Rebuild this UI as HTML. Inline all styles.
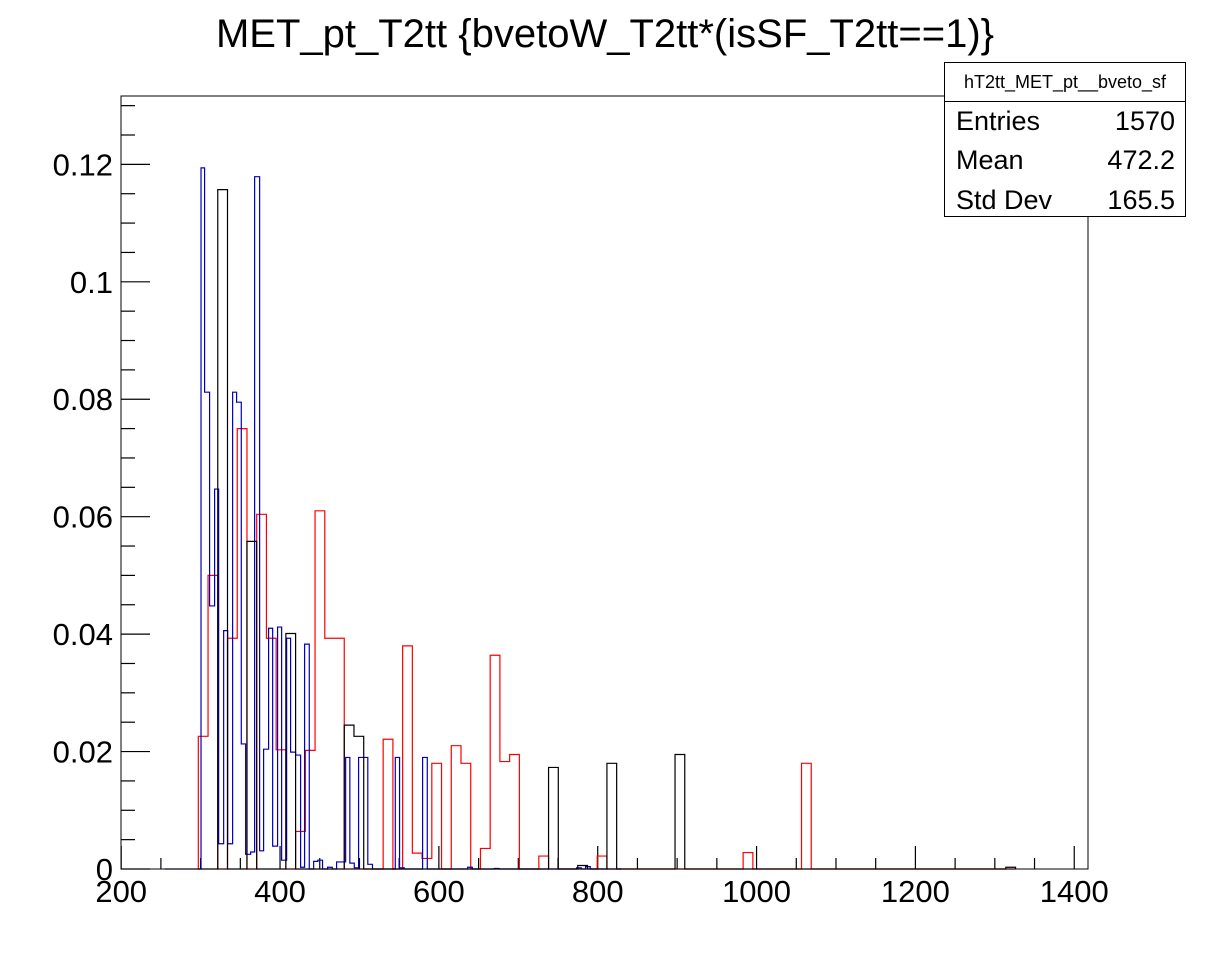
<!DOCTYPE html>
<html><head><meta charset="utf-8"><title>MET_pt_T2tt</title>
<style>
html,body{margin:0;padding:0;background:#fff;}
svg text{font-family:"Liberation Sans",Arial,sans-serif;fill:#000;}
</style></head>
<body>
<svg id="chart" width="1211" height="967" viewBox="0 0 1211 967" xmlns="http://www.w3.org/2000/svg">
<rect x="0" y="0" width="1211" height="967" fill="#fff"/>
<text x="605" y="47" font-size="40" text-anchor="middle">MET_pt_T2tt {bvetoW_T2tt*(isSF_T2tt==1)}</text>
<g id="axes"></g>
<g id="series"></g>
<rect x="121" y="96" width="967" height="773" fill="none" stroke="#000" stroke-width="1"/>
<g>
<rect x="944.5" y="62.5" width="241" height="154" fill="#fff" stroke="#000" stroke-width="1"/>
<line x1="944.5" y1="101.5" x2="1185.5" y2="101.5" stroke="#000" stroke-width="1"/>
<text x="1065" y="88" font-size="18" text-anchor="middle">hT2tt_MET_pt__bveto_sf</text>
<text x="956" y="130" font-size="27">Entries</text>
<text x="1175" y="130" font-size="27" text-anchor="end">1570</text>
<text x="956" y="169" font-size="27">Mean</text>
<text x="1175" y="169" font-size="27" text-anchor="end">472.2</text>
<text x="956" y="209" font-size="27">Std Dev</text>
<text x="1175" y="209" font-size="27" text-anchor="end">165.5</text>
</g>
</svg>
<script>
// ---- data ----
const xTickLabels = [200, 400, 600, 800, 1000, 1200, 1400];
const yTickLabels = ["0", "0.02", "0.04", "0.06", "0.08", "0.1", "0.12"];
const yTickValues = [0, 0.02, 0.04, 0.06, 0.08, 0.1, 0.12];
// wide-binned histograms (bin start / width in MET units)
const wideStart = 297.1;
const wideWidth = 12.25;
const redValues = [.0226,.050,0,.0393,.075,0,.0604,.0393,.0203,0,
 .0064,.0202,.061,.0393,.0393,0,0,0,0,.0221,
 0,.038,.0027,.0018,.018,0,.021,.018,0,.0035,
 .0364,.0183,.0195,0,0,.0022,0,0,0,0,
 0,.0022,0,0,0,0,0,0,0,0,
 0,0,0,0,0,0,.0028,0,0,0,
 0,0,.018,0,0,0,0,0,0,0,
 0,0,0,0,0,0,0,0,0,0,
 0,0,0,0];
const blackValues = [0,0,.1157,0,0,.0558,0,0,0,.0401,
 0,0,0,0,0,.0245,.0226,0,0,0,
 0,0,0,0,0,0,0,0,0,0,
 0,0,0,0,0,0,.0173,0,0,.0006,
 0,0,.018,0,0,0,0,0,0,.0195,
 0,0,0,0,0,0,0,0,0,0,
 0,0,0,0,0,0,0,0,0,0,
 0,0,0,0,0,0,0,0,0,0,
 0,0,0,.0003];
// narrow-binned histogram: left edges and contents
const blueWidth = 5.9;
const blueRange = [255, 830];
const blueEdges = [300.5,305.0,311.3,317.6,322.7,329.0,334.0,340.3,345.3,351.2,356.7,363.0,368.0,374.3,379.3,385.6,390.7,396.9,402.0,408.3,413.3,419.6,425.9,430.9,442.3,447.6,459.9,471.2,476.8,482.6,487.9,493.5,498.9,504.8,510.5,545.1,550.5,579.5,636.2,669.8,773.4,784.7];
const blueValues = [.1194,.0812,.0448,.0647,.0043,.0406,.0043,.0812,.0795,.0213,.0025,.0029,.1179,.0031,.0204,.041,.0039,.0412,.0015,.0393,.0199,.0194,.0003,.0383,.0013,.0015,.0003,.0012,.0012,.019,.001,.0002,.019,.019,.0008,.019,.0002,.019,.0003,.0001,.0002,.0004];

// ---- axes ----
const X0 = 121.2, XS = 0.7942, Y0 = 869, YS = 5872;
function X(u){ return X0 + (u - 200) * XS; }
function Y(v){ return Y0 - v * YS; }
const NS = "http://www.w3.org/2000/svg";
function mk(tag, attrs, parent){
  const e = document.createElementNS(NS, tag);
  for (const k in attrs) e.setAttribute(k, attrs[k]);
  parent.appendChild(e);
  return e;
}
const axes = document.getElementById('axes');
for (let u = 200; u <= 1400; u += 50) {
  const major = (u % 200 === 0);
  const t = mk('line', {x1: X(u), x2: X(u), y1: 869, y2: major ? 846 : 858, stroke: '#000', 'stroke-width': 1.2}, axes);
  
  
}
xTickLabels.forEach(function(v){
  const t = mk('text', {x: X(v), y: 902, 'font-size': 31, 'text-anchor': 'middle'}, axes);
  t.textContent = String(v);
  
  
});
for (let i = 0; i <= 26; i++) {
  const v = i * 0.005;
  const major = (i % 4 === 0);
  const t = mk('line', {x1: 121, x2: major ? 150 : 135, y1: Y(v), y2: Y(v), stroke: '#000', 'stroke-width': 1.2}, axes);
  
  
}
yTickLabels.forEach(function(lab, i){
  const t = mk('text', {x: 113, y: Y(yTickValues[i]) + 11, 'font-size': 31, 'text-anchor': 'end'}, axes);
  t.textContent = lab;
  
  
});

// ---- series ----
const series = document.getElementById('series');
function widePath(vals){
  let d = 'M' + X(wideStart) + ',' + Y(0);
  vals.forEach(function(v, i){
    const a = wideStart + i * wideWidth, b = a + wideWidth;
    d += ' L' + X(a) + ',' + Y(v) + ' L' + X(b) + ',' + Y(v);
  });
  d += ' L' + X(wideStart + vals.length * wideWidth) + ',' + Y(0);
  return d;
}
function bluePath(){
  let d = 'M' + X(blueRange[0]) + ',' + Y(0);
  let prevRight = null;
  blueEdges.forEach(function(a, i){
    let b = a + blueWidth;
    if (i + 1 < blueEdges.length && blueEdges[i + 1] < b + 1.5) b = blueEdges[i + 1];
    if (prevRight !== null && a > prevRight + 0.01) {
      d += ' L' + X(prevRight) + ',' + Y(0) + ' L' + X(a) + ',' + Y(0);
    } else if (prevRight === null) {
      d += ' L' + X(a) + ',' + Y(0);
    }
    d += ' L' + X(a) + ',' + Y(blueValues[i]) + ' L' + X(b) + ',' + Y(blueValues[i]);
    prevRight = b;
  });
  d += ' L' + X(prevRight) + ',' + Y(0) + ' L' + X(blueRange[1]) + ',' + Y(0);
  return d;
}
const pr = mk('path', {d: widePath(redValues), fill: 'none', stroke: '#ff0000', 'stroke-width': 1.2}, series);


const pb = mk('path', {d: bluePath(), fill: 'none', stroke: '#0000bb', 'stroke-width': 1.2}, series);


const pk = mk('path', {d: widePath(blackValues), fill: 'none', stroke: '#000', 'stroke-width': 1.2}, series);


</script>
</body></html>
